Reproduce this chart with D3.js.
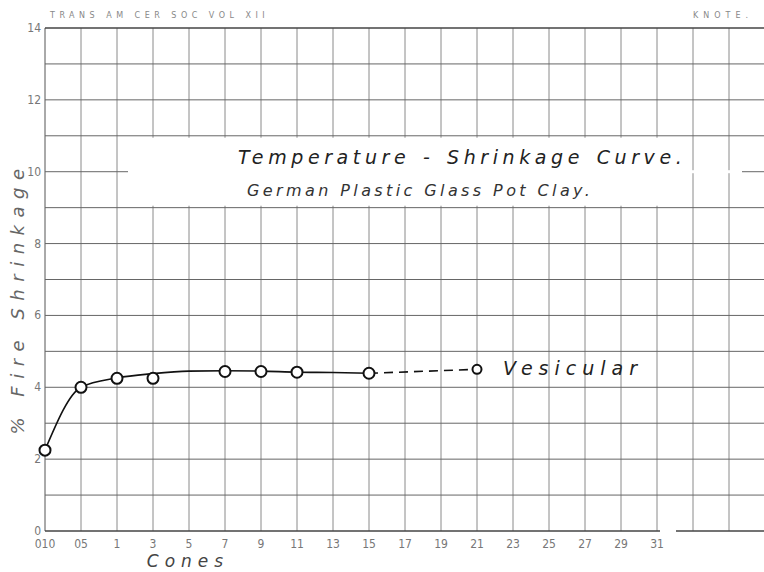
<!DOCTYPE html>
<html>
<head>
<meta charset="utf-8">
<script src="https://cdn.jsdelivr.net/npm/d3@7"></script>
<style>
  body { margin: 0; background: #fff; }
  svg { display: block; }
  .hand { font-family: "DejaVu Sans", sans-serif; font-style: italic; font-weight: 300; }
  .tick { font-family: "Liberation Sans Narrow", "DejaVu Sans Condensed", sans-serif; fill: #777; font-size: 12px; }
</style>
</head>
<body>
<svg id="chart" width="764" height="572"></svg>
<script>
// cone numbers along the bottom, one per grid column
const cones = ["010","05","1","3","5","7","9","11","13","15","17","19","21","23","25","27","29","31"];
const yTicks = [0, 2, 4, 6, 8, 10, 12, 14];

// measured points (open circles)
const pointCones = ["010","05","1","3","7","9","11","15"];
const pointValues = [2.25, 4.0, 4.25, 4.25, 4.44, 4.44, 4.42, 4.39];

// drawn smooth curve, read at each column
const curveCones = ["010","05","1","3","5","7","9","11","13","15"];
const curveValues = [2.25, 4.0, 4.26, 4.38, 4.45, 4.46, 4.45, 4.42, 4.41, 4.39];

// dashed part to the vesicular point
const vesCones = ["15","21"];
const vesValues = [4.39, 4.5];

let svg = d3.select("#chart");

let x = d3.scaleLinear().domain([0, 20]).range([45, 765]);
let y = d3.scaleLinear().domain([0, 14]).range([531, 28]);
let cx = function(c) { return x(cones.indexOf(c)); };

// grid
svg.append("g").selectAll("line")
    .data(d3.range(0, 20))
    .enter().append("line")
    .attr("x1", d => x(d)).attr("x2", d => x(d))
    .attr("y1", y(14)).attr("y2", y(0))
    .style("stroke", d => d == 0 ? "#555" : "#8a8a8a")
    .style("stroke-width", 1);

svg.append("g").selectAll("line")
    .data(d3.range(0, 15))
    .enter().append("line")
    .attr("x1", x(0)).attr("x2", 764)
    .attr("y1", d => y(d)).attr("y2", d => y(d))
    .style("stroke", d => (d == 0 || d == 14) ? "#444" : "#666")
    .style("stroke-width", d => (d == 0 || d == 14) ? 1.3 : 1);

// white panel behind the title
svg.append("rect")
    .attr("x", 128).attr("y", y(10) - 34)
    .attr("width", 560).attr("height", 68)
    .style("fill", "#fff");
svg.append("rect")
    .attr("x", 688).attr("y", y(10) - 1.5)
    .attr("width", 54).attr("height", 3)
    .style("fill", "#fff");
// small break in the base line
svg.append("rect")
    .attr("x", 660).attr("y", y(0) - 1.5)
    .attr("width", 16).attr("height", 3)
    .style("fill", "#fff");

// tick labels
svg.append("g").selectAll("text")
    .data(yTicks)
    .enter().append("text")
    .attr("class", "tick")
    .attr("x", 41).attr("y", d => y(d) + 4)
    .attr("text-anchor", "end")
    .text(d => d);

svg.append("g").selectAll("text")
    .data(cones)
    .enter().append("text")
    .attr("class", "tick")
    .attr("x", d => cx(d)).attr("y", 548)
    .attr("text-anchor", "middle")
    .text(d => d);

// headers
svg.append("text")
    .attr("x", 50).attr("y", 18)
    .style("font-family", "DejaVu Sans, sans-serif")
    .style("font-size", "8px").style("letter-spacing", "4.5px").style("fill", "#888")
    .text("TRANS  AM  CER  SOC  VOL XII");
svg.append("text")
    .attr("x", 693).attr("y", 18)
    .style("font-family", "DejaVu Sans, sans-serif")
    .style("font-size", "8px").style("letter-spacing", "5px").style("fill", "#888")
    .text("KNOTE.");

// axis titles
svg.append("text")
    .attr("class", "hand")
    .attr("transform", "translate(24,298) rotate(-90)")
    .attr("text-anchor", "middle")
    .style("font-size", "18px").style("letter-spacing", "7.5px").style("fill", "#666")
    .text("% Fire Shrinkage");

svg.append("text")
    .attr("class", "hand")
    .attr("x", 188).attr("y", 567)
    .attr("text-anchor", "middle")
    .style("font-size", "17px").style("letter-spacing", "6px").style("fill", "#444")
    .text("Cones");

// title
svg.append("text")
    .attr("class", "hand")
    .attr("x", 238).attr("y", 164)
    .style("font-size", "19px").style("letter-spacing", "4.6px").style("fill", "#222")
    .style("word-spacing", "2px")
    .text("Temperature - Shrinkage  Curve.");
svg.append("text")
    .attr("class", "hand")
    .attr("x", 247).attr("y", 196)
    .style("font-size", "16px").style("letter-spacing", "3.4px").style("fill", "#333")
    .text("German Plastic Glass Pot Clay.");

// curve
let line = d3.line()
    .x(d => cx(d[0]))
    .y(d => y(d[1]))
    .curve(d3.curveMonotoneX);

svg.append("path")
    .datum(d3.zip(curveCones, curveValues))
    .attr("d", line)
    .style("fill", "none")
    .style("stroke", "#111")
    .style("stroke-width", 1.6);

svg.append("path")
    .datum(d3.zip(vesCones, vesValues))
    .attr("d", d3.line().x(d => cx(d[0])).y(d => y(d[1])))
    .style("fill", "none")
    .style("stroke", "#111")
    .style("stroke-width", 1.6)
    .style("stroke-dasharray", "9,6");

svg.selectAll(".dot")
    .data(d3.zip(pointCones, pointValues))
    .enter().append("circle")
    .attr("class", "dot")
    .attr("cx", d => cx(d[0]))
    .attr("cy", d => y(d[1]))
    .attr("r", 5.5)
    .style("fill", "#fff")
    .style("stroke", "#111")
    .style("stroke-width", 2);

svg.append("circle")
    .attr("cx", cx(vesCones[1]))
    .attr("cy", y(vesValues[1]))
    .attr("r", 4.5)
    .style("fill", "#fff")
    .style("stroke", "#111")
    .style("stroke-width", 2);

svg.append("text")
    .attr("class", "hand")
    .attr("x", 503).attr("y", y(vesValues[1]) + 6)
    .style("font-size", "19px").style("letter-spacing", "6px").style("fill", "#222")
    .text("Vesicular");
</script>
</body>
</html>
